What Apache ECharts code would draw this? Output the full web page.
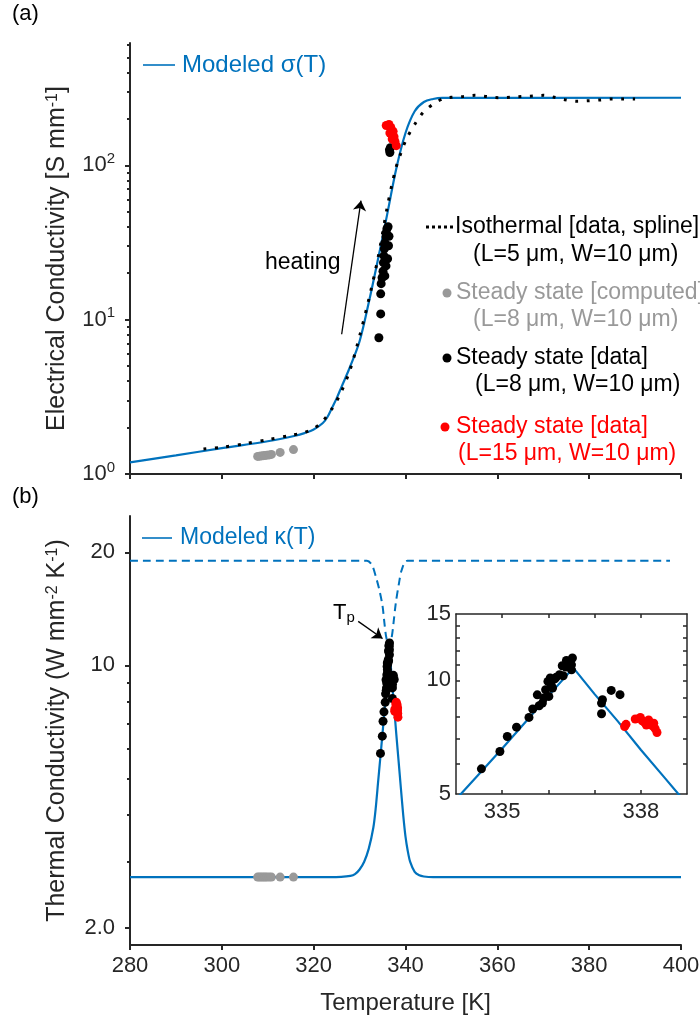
<!DOCTYPE html>
<html>
<head>
<meta charset="utf-8">
<script src="https://cdn.jsdelivr.net/npm/echarts@6/dist/echarts.min.js"></script>
<style>
  html, body { margin: 0; padding: 0; background: #ffffff; }
  #chart { width: 700px; height: 1030px; }
</style>
</head>
<body>
<div id="chart"></div>
<script>
// ---- Panel (a): electrical conductivity sigma(T) [S mm^-1] ----
const modelT_a = [280, 290, 300, 310, 316, 318, 320, 322, 323, 324, 325, 326, 328, 330, 332, 334, 336, 338, 340, 342, 344, 346, 348, 400];
const modelSigma = [1.19, 1.32, 1.47, 1.63, 1.77, 1.84, 1.94, 2.14, 2.34, 2.69, 3.09, 3.63, 5.01, 7.24, 12.9, 24.5, 47.9, 95.5, 162, 224, 257, 269, 273.5, 274];

const isoT = [296, 300, 305, 310, 315, 318, 320, 322, 324, 326, 328, 330, 332, 334, 336, 337, 338, 339, 340.2, 342.1, 343.9, 346.1, 348.2, 350, 352.6, 355.1, 357.7, 360.2, 362.8, 365.3, 367.8, 370, 372.2, 374.7, 377.3, 379.8, 382.4, 384.9, 387.4, 390];
const isoSigma = [1.45, 1.49, 1.57, 1.67, 1.78, 1.86, 1.97, 2.20, 2.65, 3.40, 4.80, 7.8, 13.5, 25, 53, 74, 98, 120, 148, 186, 221, 250, 270, 276, 279, 284, 279, 274, 276, 279, 281, 284, 277, 266, 260, 262, 265, 269, 269, 269];

const grayT = [307.8, 308.2, 308.6, 309.0, 309.4, 309.8, 310.3, 310.8, 312.7, 315.6];
const graySigma = [1.30, 1.305, 1.31, 1.315, 1.32, 1.325, 1.33, 1.34, 1.38, 1.44];
const grayKappa = [2.73, 2.73, 2.73, 2.73, 2.73, 2.73, 2.73, 2.73, 2.73, 2.73];

const blackT_a = [334.2, 334.6, 334.6, 334.7, 334.9, 335.1, 335.2, 335.3, 335.4, 335.5, 335.75, 335.8, 335.95, 336.2, 336.4, 336.3, 336.1, 335.75, 335.5, 336.6, 336.7, 336.5];
const blackSigma = [7.64, 10.9, 14.7, 17.1, 18.7, 20.6, 23.4, 25.9, 28.8, 31.4, 34.4, 36.6, 38.8, 40, 34.7, 30.1, 24.8, 22.3, 19.2, 121, 130, 126];

const redT_a = [335.8, 336.4, 336.8, 337.3, 337.5, 337.7, 338.0, 337.1, 336.6];
const redSigma = [181, 184, 176, 166, 153, 143, 134, 148, 162];

// ---- Panel (b): thermal conductivity kappa(T) [W mm^-2 K^-1] ----
const modelT_b = [280, 320, 326, 328, 329, 330, 331, 332, 333, 333.5, 334, 334.5, 335, 335.5, 336, 336.54, 337, 337.5, 338, 338.5, 339, 339.5, 340, 340.5, 341, 342, 343, 344, 346, 400];
const modelKappa = [2.73, 2.73, 2.735, 2.75, 2.78, 2.86, 3.0, 3.25, 3.7, 4.15, 4.84, 5.65, 6.6, 7.75, 9.1, 10.8, 9.2, 7.8, 6.55, 5.55, 4.7, 4.0, 3.5, 3.2, 3.0, 2.82, 2.76, 2.74, 2.73, 2.73];

const dashT = [280, 331.6, 332.7, 333.5, 334.3, 335.0, 335.4, 335.8, 336.4, 337.0, 337.4, 337.9, 338.6, 339.2, 340.4, 397.6];
const dashKappa = [19.0, 19.0, 18.5, 17.3, 15.9, 14.4, 13.0, 11.9, 11.2, 11.9, 13.0, 14.7, 16.6, 18.0, 19.0, 19.0];

const blackT_b = [334.55, 334.95, 335.11, 335.31, 335.58, 335.66, 335.76, 335.80, 335.87, 335.90, 335.94, 335.99, 336.04, 336.09, 336.14, 336.06, 336.01, 336.32, 336.38, 336.39, 336.46, 336.52, 336.50, 336.50, 336.30, 336.17, 336.24, 337.15, 337.17, 337.15, 337.36, 337.55];
const blackKappa = [5.83, 6.48, 7.10, 7.52, 7.98, 8.40, 9.16, 8.57, 8.71, 8.98, 9.45, 9.94, 10.15, 9.55, 10.1, 9.74, 9.07, 10.29, 10.85, 11.30, 11.23, 11.47, 10.67, 11.0, 10.94, 10.2, 10.35, 8.71, 8.89, 8.16, 9.41, 9.17];

const redT_b = [337.65, 337.68, 337.88, 337.99, 338.03, 338.08, 338.12, 338.17, 338.25, 338.28, 338.31, 338.35];
const redKappa = [7.55, 7.65, 7.90, 7.98, 7.82, 7.74, 7.62, 7.86, 7.58, 7.70, 7.45, 7.28];

// ---- Axis ticks and labels ----
const tempMin = 280, tempMax = 400, tempStep = 20;
const sigmaTicksMajor = [1, 10, 100];
const sigmaTicksMinor = [2, 3, 4, 5, 6, 7, 8, 9, 20, 30, 40, 50, 60, 70, 80, 90, 200, 300, 400, 500, 600];
const kappaTicksMajor = [2, 10, 20];
const kappaTicksMinor = [3, 4, 5, 6, 7, 8, 9];
const insetXTicks = [335, 336, 337, 338];
const insetXLabels = [335, 338];
const insetYTicks = [6, 7, 8, 9, 10, 11, 12, 13, 14];
const insetYLabels = [5, 10, 15];

const zip = (xs, ys) => xs.map((x, i) => [x, ys[i]]);

const AX = '#262626';
const BLUE = '#0072BD';
const GRAY = '#999999';
const RED = '#ff0000';
const FONT = '"Liberation Sans", Arial, Helvetica, sans-serif';

const chart = echarts.init(document.getElementById('chart'), null, { renderer: 'canvas' });

function mainX(grid, withLabels) {
  return {
    gridIndex: grid, type: 'value', min: tempMin, max: tempMax, interval: tempStep,
    axisLine: { show: true, onZero: false, lineStyle: { color: AX, width: 2 } },
    axisTick: { show: true, inside: false, length: 5, lineStyle: { color: AX, width: 2 } },
    axisLabel: { show: withLabels, color: AX, fontSize: 22, fontFamily: FONT, margin: 10 },
    splitLine: { show: false }
  };
}

function logY(grid, min, max, ticks, length, extra) {
  return Object.assign({
    gridIndex: grid, type: 'log', logBase: 10, min: min, max: max, position: 'left',
    axisLine: { show: false, onZero: false, lineStyle: { color: AX, width: 2 } },
    axisTick: { show: true, inside: false, length: length, customValues: ticks, lineStyle: { color: AX, width: 2 } },
    axisLabel: { show: false },
    splitLine: { show: false }, minorTick: { show: false }
  }, extra || {});
}

function dots(name, x, y, xi, yi, color, z) {
  return {
    name: name, type: 'scatter', xAxisIndex: xi, yAxisIndex: yi,
    data: zip(x, y), symbolSize: 9, itemStyle: { color: color, opacity: 1 }, z: z
  };
}

function arrow(from, to) {
  return {
    silent: true, symbol: ['none', 'arrow'], symbolSize: 10,
    label: { show: false },
    lineStyle: { color: '#000', width: 1.3, type: 'solid', opacity: 1 },
    emphasis: { disabled: true },
    data: [[{ coord: from }, { coord: to }]]
  };
}

const option = {
  animation: false,
  backgroundColor: '#ffffff',
  textStyle: { fontFamily: FONT },
  grid: [
    { left: 130, top: 43, width: 551, height: 431, outerBoundsMode: 'none' },
    { left: 130, top: 516, width: 551, height: 429, outerBoundsMode: 'none' },
    { left: 456, top: 614, width: 231, height: 180, outerBoundsMode: 'none', show: true, backgroundColor: '#ffffff', borderWidth: 0 }
  ],
  xAxis: [
    mainX(0, false),
    Object.assign(mainX(1, true), {
      name: 'Temperature [K]', nameLocation: 'middle', nameGap: 46,
      nameTextStyle: { color: AX, fontSize: 24, fontFamily: FONT }
    }),
    {
      gridIndex: 2, type: 'value', min: 334, max: 339, position: 'bottom',
      axisLine: { show: true, onZero: false, lineStyle: { color: AX, width: 1.5 } },
      axisTick: { show: true, inside: true, length: 4, customValues: insetXTicks, lineStyle: { color: AX, width: 1.5 } },
      axisLabel: { show: true, customValues: insetXLabels, color: AX, fontSize: 22, fontFamily: FONT, margin: 7 },
      splitLine: { show: false }
    },
    {
      gridIndex: 2, type: 'value', min: 334, max: 339, position: 'top',
      axisLine: { show: true, onZero: false, lineStyle: { color: AX, width: 1.5 } },
      axisTick: { show: true, inside: true, length: 4, customValues: insetXTicks, lineStyle: { color: AX, width: 1.5 } },
      axisLabel: { show: false },
      splitLine: { show: false }
    }
  ],
  yAxis: [
    // (a) decades with labels
    logY(0, 1, 620, sigmaTicksMajor, 5, {
      axisLine: { show: true, onZero: false, lineStyle: { color: AX, width: 2 } },
      axisLabel: {
        show: true, customValues: sigmaTicksMajor, margin: 15, color: AX, fontFamily: FONT,
        formatter: v => '{b|10}{s|' + Math.round(Math.log10(v)) + '}',
        rich: {
          b: { fontSize: 22, color: AX, fontFamily: FONT, lineHeight: 28 },
          s: { fontSize: 15, color: AX, fontFamily: FONT, verticalAlign: 'top' }
        }
      },
      name: 'Electrical Conductivity [S mm{s|-1}]', nameLocation: 'middle', nameGap: 60, nameRotate: 90,
      nameTextStyle: {
        color: AX, fontSize: 25, fontFamily: FONT,
        rich: { s: { fontSize: 16, color: AX, fontFamily: FONT, verticalAlign: 'top' } }
      }
    }),
    // (a) minor ticks
    logY(0, 1, 620, sigmaTicksMinor, 3),
    // (b) labelled ticks
    logY(1, 1.8, 25, kappaTicksMajor, 5, {
      axisLine: { show: true, onZero: false, lineStyle: { color: AX, width: 2 } },
      axisLabel: {
        show: true, customValues: kappaTicksMajor, margin: 15, color: AX, fontSize: 22, fontFamily: FONT,
        formatter: v => (v === 2 ? '2.0' : String(v))
      },
      name: 'Thermal Conductivity (W mm{s|-2} K{s|-1})', nameLocation: 'middle', nameGap: 60, nameRotate: 90,
      nameTextStyle: {
        color: AX, fontSize: 25, fontFamily: FONT,
        rich: { s: { fontSize: 16, color: AX, fontFamily: FONT, verticalAlign: 'top' } }
      }
    }),
    // (b) minor ticks
    logY(1, 1.8, 25, kappaTicksMinor, 3),
    // inset left
    {
      gridIndex: 2, type: 'log', logBase: 10, min: 5, max: 15, position: 'left',
      axisLine: { show: true, onZero: false, lineStyle: { color: AX, width: 1.5 } },
      axisTick: { show: true, inside: true, length: 4, customValues: insetYTicks, lineStyle: { color: AX, width: 1.5 } },
      axisLabel: { show: true, customValues: insetYLabels, margin: 5, color: AX, fontSize: 22, fontFamily: FONT },
      splitLine: { show: false }
    },
    // inset right
    {
      gridIndex: 2, type: 'log', logBase: 10, min: 5, max: 15, position: 'right',
      axisLine: { show: true, onZero: false, lineStyle: { color: AX, width: 1.5 } },
      axisTick: { show: true, inside: true, length: 4, customValues: insetYTicks, lineStyle: { color: AX, width: 1.5 } },
      axisLabel: { show: false },
      splitLine: { show: false }
    }
  ],
  series: [
    // ----- (a) -----
    {
      name: 'Modeled sigma', type: 'line', xAxisIndex: 0, yAxisIndex: 0,
      data: zip(modelT_a, modelSigma), showSymbol: false, smooth: 0.35, z: 2,
      lineStyle: { color: BLUE, width: 2.2 },
      markLine: arrow([326.1, 8.04], [330.3, 59])
    },
    {
      name: 'Isothermal', type: 'line', xAxisIndex: 0, yAxisIndex: 0,
      data: zip(isoT, isoSigma), showSymbol: false, smooth: 0.3, z: 3,
      lineStyle: { color: '#000', width: 3, type: [3, 8.5], cap: 'butt' }
    },
    dots('Steady computed a', grayT, graySigma, 0, 0, GRAY, 4),
    dots('Steady data 8um a', blackT_a, blackSigma, 0, 0, '#000', 5),
    dots('Steady data 15um a', redT_a, redSigma, 0, 0, RED, 6),
    // ----- (b) -----
    {
      name: 'Kappa dashed', type: 'line', xAxisIndex: 1, yAxisIndex: 2,
      data: zip(dashT, dashKappa), showSymbol: false, smooth: 0.3, z: 2,
      lineStyle: { color: BLUE, width: 2, type: [8, 5] }
    },
    {
      name: 'Modeled kappa', type: 'line', xAxisIndex: 1, yAxisIndex: 2,
      data: zip(modelT_b, modelKappa), showSymbol: false, smooth: 0.25, z: 2,
      lineStyle: { color: BLUE, width: 2.2 },
      markLine: arrow([329.7, 13.1], [335.0, 11.8])
    },
    dots('Steady computed b', grayT, grayKappa, 1, 2, GRAY, 4),
    dots('Steady data 8um b', blackT_b, blackKappa, 1, 2, '#000', 5),
    dots('Steady data 15um b', redT_b, redKappa, 1, 2, RED, 6),
    // ----- inset -----
    {
      name: 'Inset kappa', type: 'line', xAxisIndex: 2, yAxisIndex: 4,
      data: zip(modelT_b, modelKappa), showSymbol: false, z: 2,
      lineStyle: { color: BLUE, width: 2.2 }
    },
    dots('Inset black', blackT_b, blackKappa, 2, 4, '#000', 5),
    dots('Inset red', redT_b, redKappa, 2, 4, RED, 6)
  ],
  graphic: [
    { type: 'text', x: 12, y: 14, style: { text: '(a)', font: '22px ' + FONT, fill: '#000', verticalAlign: 'middle' } },
    { type: 'text', x: 12, y: 497, style: { text: '(b)', font: '22px ' + FONT, fill: '#000', verticalAlign: 'middle' } },

    // legend (a)
    { type: 'line', shape: { x1: 143, y1: 65, x2: 175, y2: 65 }, style: { stroke: BLUE, lineWidth: 1.6 } },
    { type: 'text', x: 182, y: 65, style: { text: 'Modeled σ(T)', font: '24px ' + FONT, fill: BLUE, verticalAlign: 'middle' } },

    { type: 'line', shape: { x1: 426, y1: 227, x2: 453, y2: 227 }, style: { stroke: '#000', lineWidth: 3, lineDash: [3, 3] } },
    { type: 'text', x: 455, y: 227, style: { text: 'Isothermal [data, spline]', font: '23px ' + FONT, fill: '#000', verticalAlign: 'middle' } },
    { type: 'text', x: 473, y: 255, style: { text: '(L=5 μm, W=10 μm)', font: '23px ' + FONT, fill: '#000', verticalAlign: 'middle' } },

    { type: 'circle', shape: { cx: 447, cy: 293, r: 4.5 }, style: { fill: GRAY } },
    { type: 'text', x: 456, y: 293, style: { text: 'Steady state [computed]', font: '23px ' + FONT, fill: GRAY, verticalAlign: 'middle' } },
    { type: 'text', x: 473, y: 320, style: { text: '(L=8 μm, W=10 μm)', font: '23px ' + FONT, fill: GRAY, verticalAlign: 'middle' } },

    { type: 'circle', shape: { cx: 447, cy: 358, r: 4.5 }, style: { fill: '#000' } },
    { type: 'text', x: 456, y: 358, style: { text: 'Steady state [data]', font: '23px ' + FONT, fill: '#000', verticalAlign: 'middle' } },
    { type: 'text', x: 475, y: 385, style: { text: '(L=8 μm, W=10 μm)', font: '23px ' + FONT, fill: '#000', verticalAlign: 'middle' } },

    { type: 'circle', shape: { cx: 445, cy: 427, r: 4.5 }, style: { fill: RED } },
    { type: 'text', x: 456, y: 427, style: { text: 'Steady state [data]', font: '23px ' + FONT, fill: RED, verticalAlign: 'middle' } },
    { type: 'text', x: 458, y: 454, style: { text: '(L=15 μm, W=10 μm)', font: '23px ' + FONT, fill: RED, verticalAlign: 'middle' } },

    { type: 'text', x: 265, y: 263, style: { text: 'heating', font: '23px ' + FONT, fill: '#000', verticalAlign: 'middle' } },

    // legend (b)
    { type: 'line', shape: { x1: 142, y1: 538, x2: 172, y2: 538 }, style: { stroke: BLUE, lineWidth: 1.6 } },
    { type: 'text', x: 180, y: 538, style: { text: 'Modeled κ(T)', font: '23px ' + FONT, fill: BLUE, verticalAlign: 'middle' } },

    // peak temperature label
    {
      type: 'text', x: 333, y: 613,
      style: {
        text: 'T{p|p}', font: '22px ' + FONT, fill: '#000', verticalAlign: 'middle',
        rich: { p: { fontSize: 15, fontFamily: FONT, fill: '#000', verticalAlign: 'bottom', padding: [10, 0, 0, 0] } }
      }
    }
  ]
};

chart.setOption(option);
</script>
</body>
</html>
